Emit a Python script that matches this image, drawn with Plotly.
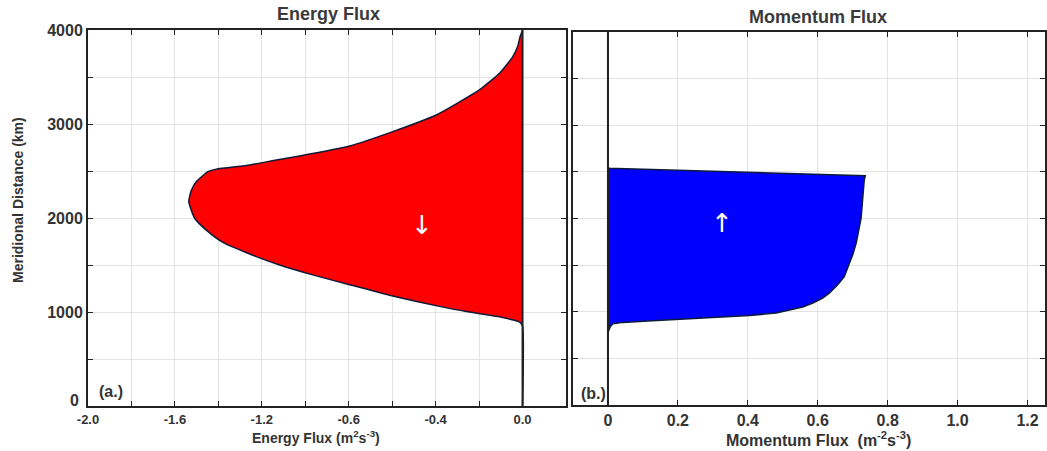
import plotly.graph_objects as go

# Energy flux profile (m^2 s^-3) against meridional distance (km)
energy_dist = [0, 850, 895, 925, 950, 1005, 1060, 1170, 1290, 1395, 1500, 1630,
               1740, 1860, 2000, 2174, 2290, 2390, 2493, 2519, 2564, 2617, 2660,
               2766, 2919, 3096, 3362, 3540, 3628, 3717, 3823, 3930, 4000]
energy_flux = [0.0, 0.0, -0.014, -0.06, -0.106, -0.259, -0.382, -0.597, -0.796,
               -0.966, -1.118, -1.27, -1.379, -1.45, -1.51, -1.536, -1.525, -1.50,
               -1.448, -1.41, -1.256, -1.133, -1.026, -0.796, -0.597, -0.397,
               -0.199, -0.106, -0.074, -0.045, -0.023, -0.011, 0.0]

# Momentum flux profile against meridional distance (km)
momentum_dist = [0, 770, 808, 843, 872, 886, 901, 915, 940, 961, 986, 1015, 1051,
                 1094, 1147, 1200, 1289, 1378, 1503, 1610, 1736, 1878, 2003, 2413,
                 2459, 2538, 2560, 4000]
momentum_flux = [0.0, 0.0, 0.003, 0.007, 0.014, 0.043, 0.114, 0.186, 0.329, 0.405,
                 0.481, 0.519, 0.557, 0.586, 0.614, 0.633, 0.657, 0.676, 0.69, 0.70,
                 0.71, 0.717, 0.724, 0.733, 0.736, 0.003, 0.0, 0.0]

# Tick positions and labels
energy_ticks = [-2.0, -1.8, -1.6, -1.4, -1.2, -1.0, -0.8, -0.6, -0.4, -0.2, 0.0, 0.2]
energy_ticktext = ["-2.0", " ", "-1.6", " ", "-1.2", " ", "-0.6", " ", "-0.4", " ", "0.0", " "]
momentum_ticks = [0.0, 0.2, 0.4, 0.6, 0.8, 1.0, 1.2]
momentum_ticktext = ["0", "0.2", "0.4", "0.6", "0.8", "1.0", "1.2"]
dist_ticks = [0, 500, 1000, 1500, 2000, 2500, 3000, 3500, 4000]
dist_ticktext = [" ", " ", "1000", " ", "2000", " ", "3000", " ", "4000"]

W, H = 1047, 451
FONT = "Liberation Sans, Arial, Helvetica, sans-serif"
TXT = "#333333"
FRAME = "#222222"
GRID = "#e3e3e3"

def px(x):
    return x / W

def py(y):
    return 1 - y / H

fig = go.Figure()

fig.add_trace(go.Scatter(
    x=energy_flux, y=energy_dist, mode="lines", fill="tozerox",
    fillcolor="#ff0000", line=dict(color="#0d1b3a", width=1.5, shape="spline", smoothing=0.5),
    xaxis="x", yaxis="y", showlegend=False, hoverinfo="skip"))

fig.add_trace(go.Scatter(
    x=momentum_flux, y=momentum_dist, mode="lines", fill="tozerox",
    fillcolor="#0000ff", line=dict(color="#0d1b3a", width=1.5),
    xaxis="x2", yaxis="y2", showlegend=False, hoverinfo="skip"))

common_axis = dict(
    showline=True, mirror="ticks", linecolor=FRAME, linewidth=2,
    ticks="inside", ticklen=5, tickcolor=FRAME, tickwidth=1,
    showgrid=True, gridcolor=GRID, gridwidth=1, automargin=False,
    zeroline=False,
)

fig.update_layout(
    width=W, height=H,
    margin=dict(l=0, r=0, t=0, b=0),
    paper_bgcolor="white", plot_bgcolor="white",
    font=dict(family=FONT, color=TXT),
    xaxis=dict(common_axis, domain=[px(88), px(566)], range=[-2.0, 0.2],
               tickmode="array", tickvals=energy_ticks, ticktext=energy_ticktext,
               tickfont=dict(size=13, weight="bold", color=TXT), anchor="y"),
    yaxis=dict(common_axis, domain=[py(406), py(30)], range=[0, 4000],
               tickmode="array", tickvals=dist_ticks, ticktext=dist_ticktext,
               tickfont=dict(size=16, weight="bold", color=TXT), anchor="x"),
    xaxis2=dict(common_axis, domain=[px(573), px(1045)], range=[-0.1, 1.25],
                tickmode="array", tickvals=momentum_ticks, ticktext=momentum_ticktext,
                tickfont=dict(size=16, weight="bold", color=TXT), anchor="y2"),
    yaxis2=dict(common_axis, domain=[py(405), py(32)], range=[0, 4000],
                tickmode="array", tickvals=dist_ticks, showticklabels=False,
                anchor="x2"),
)

# Zero-flux reference lines drawn over the filled profiles
for xr, yr in (("x", "y domain"), ("x2", "y2 domain")):
    fig.add_shape(type="line", xref=xr, yref=yr, x0=0, x1=0, y0=0, y1=1,
                  line=dict(color=FRAME, width=2), layer="above")

annotations = [
    dict(text="<b>Energy Flux</b>", x=px(328), y=py(14), font=dict(size=18, color="#3a3a3a")),
    dict(text="<b>Momentum Flux</b>", x=px(818), y=py(17), font=dict(size=18, color="#3a3a3a")),
    dict(text="<b>Energy Flux (m<sup>2</sup>s<sup>-3</sup>)</b>", x=px(316), y=py(437),
         font=dict(size=14, color=TXT)),
    dict(text="<b>Momentum Flux  (m<sup>-2</sup>s<sup>-3</sup>)</b>", x=px(818), y=py(439),
         font=dict(size=16, color=TXT)),
    dict(text="<b>Meridional Distance (km)</b>", x=px(18), y=py(200), textangle=-90,
         font=dict(size=14, color=TXT)),
    dict(text="<b>(a.)</b>", x=px(111), y=py(391), font=dict(size=16, color=TXT)),
    dict(text="<b>(b.)</b>", x=px(593), y=py(393), font=dict(size=16, color=TXT)),
]
for a in annotations:
    fig.add_annotation(xref="paper", yref="paper", showarrow=False,
                       xanchor="center", yanchor="middle", **a)

# Origin label of the distance axis, set slightly above the corner
fig.add_annotation(text="<b>0</b>", xref="paper", yref="paper", x=px(81), y=py(400),
                   xanchor="right", yanchor="middle", showarrow=False,
                   font=dict(size=16, color=TXT))

fig.add_annotation(text="↓", x=-0.465, y=1926, xref="x", yref="y", showarrow=False,
                   font=dict(family="DejaVu Sans", size=26, color="white"))
fig.add_annotation(text="↑", x=0.325, y=1953, xref="x2", yref="y2", showarrow=False,
                   font=dict(family="DejaVu Sans", size=26, color="white"))

fig.write_html("out.html")
